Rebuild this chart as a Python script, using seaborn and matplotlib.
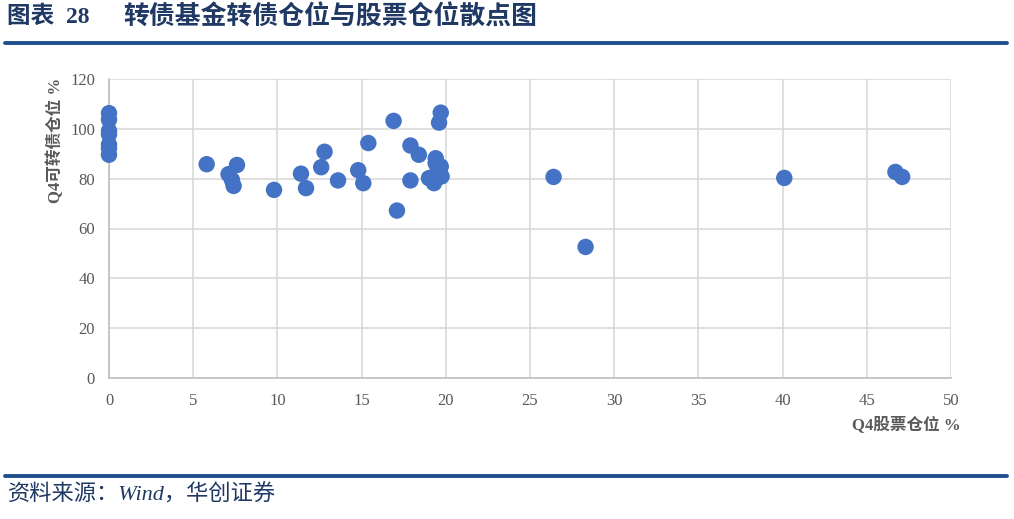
import matplotlib
matplotlib.use("Agg")
import matplotlib.pyplot as plt
import seaborn as sns
import pandas as pd

stock_pos = [0, 0, 0, 0, 0, 0, 0,
             5.8, 7.1, 7.3, 7.4, 7.6, 9.8,
             11.4, 11.7, 12.6, 12.8, 13.6, 14.8, 15.1, 15.4,
             16.9, 17.1, 17.9, 17.9, 18.4,
             19.0, 19.3, 19.4, 19.4, 19.5, 19.6, 19.7, 19.7, 19.75,
             26.4, 28.3, 40.1, 46.7, 47.1]
cb_pos = [106.3, 103.7, 99.2, 97.8, 93.7, 92.2, 89.6,
          85.8, 81.8, 79.5, 77.1, 85.5, 75.5,
          82.0, 76.2, 84.6, 90.8, 79.3, 83.4, 78.2, 94.3,
          103.2, 67.2, 93.3, 79.3, 89.6,
          80.2, 78.2, 88.2, 86.2, 82.9, 102.5, 106.5, 84.9, 80.9,
          80.7, 52.6, 80.3, 82.7, 80.7]
x_ticks = [0, 5, 10, 15, 20, 25, 30, 35, 40, 45, 50]
y_ticks = [0, 20, 40, 60, 80, 100, 120]

title_num = "图表  28"
title_text = "转债基金转债仓位与股票仓位散点图"
x_label = "Q4股票仓位 %"
y_label = "Q4可转债仓位 %"
source_text = "资料来源：Wind，华创证券"

df = pd.DataFrame({"stock": stock_pos, "cb": cb_pos})

sns.set_theme(style="white")
plt.rcParams['font.family'] = ['Noto Sans CJK SC', 'DejaVu Sans']
MIX = ['Liberation Serif', 'Noto Sans CJK SC', 'DejaVu Sans']

W, H = 1014, 519
fig = plt.figure(figsize=(W / 100, H / 100), dpi=100)
ax = fig.add_axes([109 / W, 1 - 378 / H, (951 - 109) / W, (378 - 79) / H])

sns.scatterplot(data=df, x="stock", y="cb", ax=ax, s=140, color="#4472C4",
                edgecolor="none", zorder=3, clip_on=False)

ax.set_xlim(0, 50)
ax.set_ylim(0, 120)
ax.set_xticks(x_ticks)
ax.set_yticks(y_ticks)
ax.grid(True, color="#D9D9D9", linewidth=1.2)
ax.set_axisbelow(True)
for s in ["top", "right"]:
    ax.spines[s].set_visible(False)
for s in ["left", "bottom"]:
    ax.spines[s].set_color("#BFBFBF")
    ax.spines[s].set_linewidth(1.2)
ax.tick_params(axis="both", length=0, labelsize=12, colors="#595959")
ax.tick_params(axis="x", pad=11)
ax.tick_params(axis="y", pad=10)
for lab in ax.get_xticklabels() + ax.get_yticklabels():
    lab.set_fontfamily("Liberation Serif")
ax.set_xlabel("")
ax.set_ylabel("")

fig.text(960 / W, 1 - 425 / H, x_label, ha="right", va="center", fontsize=12,
         fontweight="bold", color="#595959", family=MIX)
fig.text(55 / W, 1 - 140 / H, y_label, ha="center", va="center", rotation=90,
         fontsize=12, fontweight="bold", color="#595959", family=MIX)

fig.text(7 / W, 1 - 17 / H, title_num, ha="left", va="center", fontsize=17,
         fontweight="bold", color="#1F3864", family=MIX)
fig.text(123 / W, 1 - 17 / H, title_text, ha="left", va="center", fontsize=18.6,
         fontweight="bold", color="#1F3864", family=MIX)
fig.add_artist(plt.Line2D([5 / W, 1007 / W], [1 - 43 / H, 1 - 43 / H],
                          color="#1F4E8C", linewidth=2.8))
fig.add_artist(plt.Line2D([5 / W, 1007 / W], [1 - 476 / H, 1 - 476 / H],
                          color="#1F4E8C", linewidth=2.8))
fig.text(8 / W, 1 - 495 / H, source_text, ha="left", va="center", fontsize=16,
         style="italic", color="#1F3864", family=MIX)

fig.savefig("out.png", dpi=100)
